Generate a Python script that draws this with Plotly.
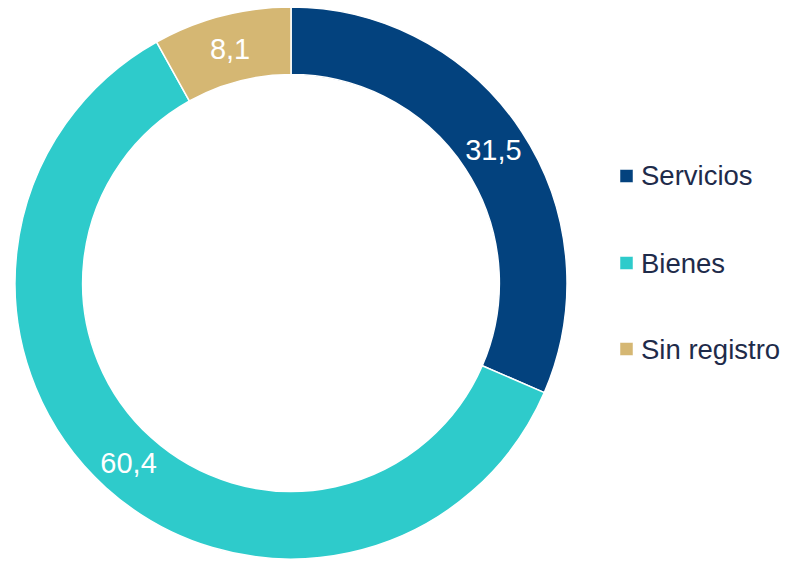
import plotly.graph_objects as go

categories = ["Servicios", "Bienes", "Sin registro"]
values = [31.5, 60.4, 8.1]
labels_text = ["31,5", "60,4", "8,1"]
colors = ["#03427E", "#2ECBCB", "#D5B773"]

W, H = 786, 563
cx, cy, R = 291, 283, 276

fig = go.Figure(go.Pie(
    labels=categories,
    values=values,
    text=labels_text,
    textinfo="text",
    textposition="inside",
    insidetextorientation="horizontal",
    textfont=dict(family="Liberation Sans, Arial", size=29, color="#FFFFFF"),
    hole=0.755,
    sort=False,
    direction="clockwise",
    rotation=0,
    marker=dict(colors=colors, line=dict(color="#FFFFFF", width=1.5)),
    domain=dict(x=[(cx - R) / W, (cx + R) / W],
                y=[(H - cy - R) / H, (H - cy + R) / H]),
    showlegend=False,
    hoverinfo="label+value",
))

# custom legend
leg_y = [176, 263, 349]
for cat, col, y in zip(categories, colors, leg_y):
    fig.add_shape(type="rect", xref="paper", yref="paper",
                  x0=620 / W, x1=633 / W,
                  y0=(H - y - 6.5) / H, y1=(H - y + 6.5) / H,
                  fillcolor=col, line=dict(color="#FFFFFF", width=0.5))
    fig.add_annotation(xref="paper", yref="paper", x=639 / W, y=(H - y) / H,
                       text=cat, showarrow=False, xanchor="left", yanchor="middle",
                       font=dict(family="Liberation Sans, Arial", size=27.5, color="#1E2B4A"))

fig.update_layout(
    width=W, height=H,
    margin=dict(l=0, r=0, t=0, b=0),
    paper_bgcolor="white",
    plot_bgcolor="white",
)

fig.write_html("out.html",
               config={"displayModeBar": False},
               post_script="document.body.style.margin='0';document.body.style.overflow='hidden';")
